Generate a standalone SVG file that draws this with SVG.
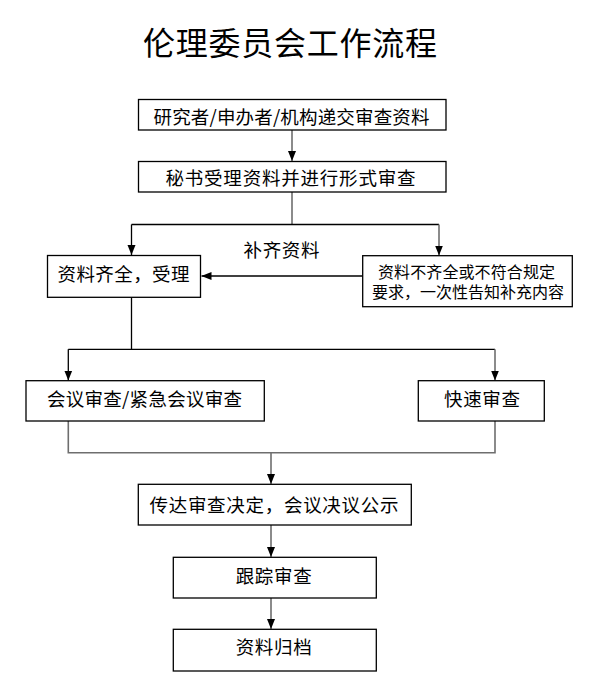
<svg xmlns="http://www.w3.org/2000/svg" width="599" height="699" viewBox="0 0 599 699">
<style>
.box{fill:#fff;stroke:#000;stroke-width:1.3}
.t{font-family:"Noto Sans CJK SC","Liberation Sans",sans-serif;fill:#000;text-anchor:middle;font-size:18.5px}
.s{font-size:16px}
.ttl{font-size:32px}
.ln{fill:none;stroke:#000;stroke-width:1.3}
.gr{fill:none;stroke:#6e6e6e;stroke-width:1.6}
</style>
<defs>
<marker id="ah" markerUnits="userSpaceOnUse" markerWidth="10" markerHeight="10" viewBox="0 0 10 10" refX="10" refY="5" orient="auto">
<path d="M0,1 L10,5 L0,9 Z" fill="#000"/>
</marker>
</defs>
<rect width="599" height="699" fill="#fff"/>
<text class="t ttl" x="290" y="55" textLength="294" lengthAdjust="spacing">伦理委员会工作流程</text>
<g id="connectors">
<path class="gr" d="M292,130 V161" marker-end="url(#ah)"/>
<path class="gr" d="M292,192 V224.5"/>
<path class="ln" d="M131.5,224.5 H439"/>
<path class="ln" d="M131.5,224.5 V255" marker-end="url(#ah)"/>
<path class="gr" d="M439,224.5 V255.5" marker-end="url(#ah)"/>
<path class="ln" d="M362.5,276 H201.5" marker-end="url(#ah)"/>
<path class="ln" d="M131.5,297.3 V349.3 M68.3,349.3 H495"/>
<path class="ln" d="M68.3,349.3 V380.5" marker-end="url(#ah)"/>
<path class="gr" d="M495,349.3 V380.5" marker-end="url(#ah)"/>
<path class="gr" d="M68.3,421 V452.7 H495 V421"/>
<path class="gr" d="M271,452.7 V484" marker-end="url(#ah)"/>
<path class="gr" d="M271,525 V557" marker-end="url(#ah)"/>
<path class="gr" d="M271,598 V629" marker-end="url(#ah)"/>
</g>
<g id="n1"><rect class="box" x="138.5" y="99.5" width="307.5" height="30.5"/>
<text class="t" x="291.5" y="123.5" textLength="276" lengthAdjust="spacing">研究者/申办者/机构递交审查资料</text></g>
<g id="n2"><rect class="box" x="138.5" y="161.5" width="307.5" height="30.5"/>
<text class="t" x="290.5" y="184.5" font-size="19" textLength="250" lengthAdjust="spacing">秘书受理资料并进行形式审查</text></g>
<g id="lbl"><text class="t" x="281.5" y="257" textLength="76" lengthAdjust="spacing">补齐资料</text></g>
<g id="n3"><rect class="box" x="47.5" y="255.5" width="153" height="41.8"/>
<text class="t" x="123.5" y="281" textLength="132" lengthAdjust="spacing">资料齐全，受理</text></g>
<g id="n4"><rect class="box" x="362.7" y="255.7" width="209.6" height="51"/>
<text class="t s"><tspan x="466.5" y="278" textLength="177" lengthAdjust="spacing">资料不齐全或不符合规定</tspan><tspan x="468" y="297.5" textLength="192" lengthAdjust="spacing">要求，一次性告知补充内容</tspan></text></g>
<g id="n5"><rect class="box" x="26" y="380.7" width="238.3" height="40.3"/>
<text class="t" x="144.5" y="405.5" textLength="195" lengthAdjust="spacing">会议审查/紧急会议审查</text></g>
<g id="n6"><rect class="box" x="418.3" y="380.7" width="126" height="40.3"/>
<text class="t" x="482" y="405.5" textLength="76" lengthAdjust="spacing">快速审查</text></g>
<g id="n7"><rect class="box" x="138.3" y="484.3" width="273" height="40.7"/>
<text class="t" x="274" y="511.5" textLength="249" lengthAdjust="spacing">传达审查决定，会议决议公示</text></g>
<g id="n8"><rect class="box" x="173.3" y="557.3" width="203" height="40.7"/>
<text class="t" x="273.7" y="582.5" textLength="76" lengthAdjust="spacing">跟踪审查</text></g>
<g id="n9"><rect class="box" x="173.3" y="629.3" width="203" height="41.7"/>
<text class="t" x="273.7" y="653.5" textLength="76" lengthAdjust="spacing">资料归档</text></g>
</svg>
